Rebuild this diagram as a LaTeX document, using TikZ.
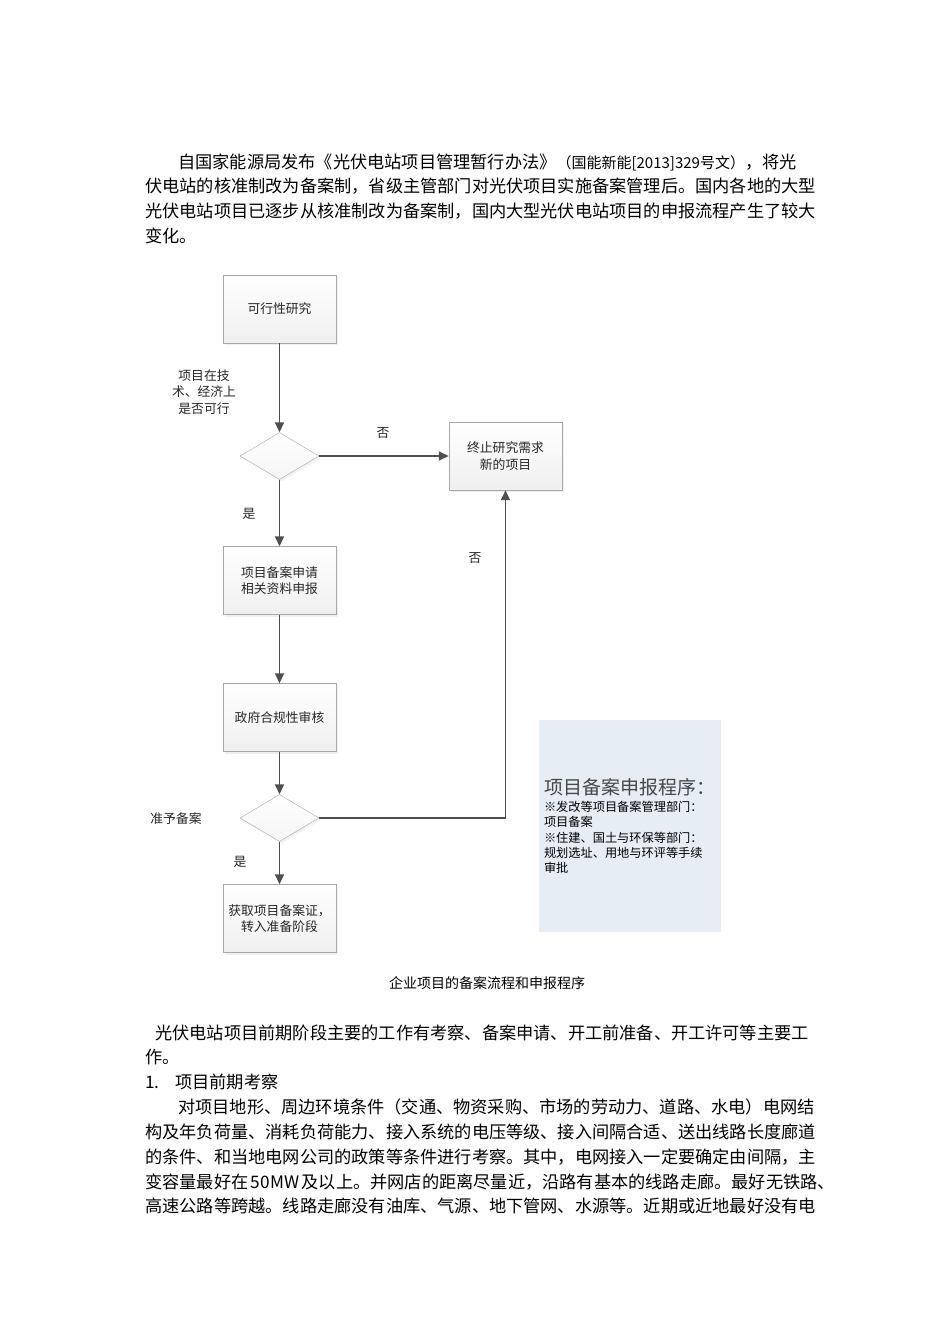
\documentclass[tikz,border=0pt]{standalone}
\usepackage{fontspec}
\setmainfont{Noto Sans CJK SC}
\usetikzlibrary{
  arrows.meta,
  positioning,
  shapes.geometric,
  shadows
}
\XeTeXlinebreaklocale "zh"
\XeTeXlinebreakskip = 0pt plus 3pt minus 1pt

\definecolor{arrowgray}{HTML}{4F4F4F}
\definecolor{boxline}{HTML}{A8A8A8}
\definecolor{notefill}{HTML}{E6EDF5}
\definecolor{inkgray}{HTML}{262626}

\newcommand{\bodyfont}{\fontsize{17.2}{24.6}\selectfont}
\newcommand{\smallbody}{\fontsize{15}{18}\selectfont}
\newcommand{\chartfont}{\fontsize{12.8}{16.5}\selectfont}
\newcommand{\notefont}{\fontsize{12.2}{15.3}\selectfont}
\newcommand{\notetitlefont}{\fontsize{19}{21}\selectfont}
\newcommand{\captionfont}{\fontsize{14}{17}\selectfont}
\newcommand{\fullline}[2]{\makebox[#1][s]{#2}}

\begin{document}
\begin{tikzpicture}[
  x=1pt, y=-1pt,
  stepbox/.style={
    rectangle,
    draw=boxline,
    top color=white,
    bottom color=gray!12,
    minimum width=113pt,
    minimum height=68pt,
    font=\chartfont,
    text=inkgray,
    align=center,
    inner sep=2pt,
    drop shadow={shadow xshift=2pt, shadow yshift=-2pt, opacity=0.12},
  },
  decision/.style={
    diamond,
    draw=boxline,
    top color=white,
    bottom color=gray!8,
    minimum width=79pt,
    minimum height=47pt,
    inner sep=0pt,
    drop shadow={shadow xshift=2pt, shadow yshift=-2pt, opacity=0.10},
  },
  arrow/.style={-{Triangle[length=10pt, width=9pt]}, line width=1.6pt, arrowgray},
  flowlabel/.style={
    font=\chartfont,
    text=inkgray,
    inner sep=0pt,
  },
  note/.style={
    rectangle,
    fill=notefill,
    minimum width=182pt,
    minimum height=212pt,
    text width=172pt,
    align=left,
    inner sep=5pt,
    font=\notefont,
  },
  bodyline/.style={
    anchor=base west,
    inner sep=0pt,
    font=\bodyfont,
  },
]
\useasboundingbox (0,0) rectangle (950,1344);

% ── Opening paragraph ──
\node[bodyline] (introA) at (178, 168.5) {\fullline{630pt}{自国家能源局发布《光伏电站项目管理暂行办法》{\smallbody（国能新能[2013]329号文）}，将光}};
\node[bodyline] (introB) at (145, 192.5) {\fullline{663pt}{伏电站的核准制改为备案制，省级主管部门对光伏项目实施备案管理后。国内各地的大型}};
\node[bodyline] (introC) at (145, 217.5) {\fullline{663pt}{光伏电站项目已逐步从核准制改为备案制，国内大型光伏电站项目的申报流程产生了较大}};
\node[bodyline] (introD) at (145, 242.5) {变化。};

% ── Main column ──
\node[stepbox] (study) at (279.5, 309) {可行性研究};
\node[decision] (feasible) at (279.5, 456) {};
\node[stepbox] (apply) at (279.5, 580.5) {项目备案申请\\相关资料申报};
\node[stepbox] (review) at (279.5, 717.5) {政府合规性审核};
\node[decision] (approve) at (279.5, 818) {};
\node[stepbox] (obtain) at (279.5, 918.5) {获取项目备案证，\\转入准备阶段};

% ── Side branch ──
\node[stepbox] (stop) at (505.5, 456) {终止研究需求\\新的项目};

% ── Labels ──
\node[flowlabel, align=center] (askfeasible) at (204, 392) {项目在技\\术、经济上\\是否可行};
\node[flowlabel] (noA) at (383, 433) {否};
\node[flowlabel] (yesA) at (249, 514) {是};
\node[flowlabel] (noB) at (475, 558) {否};
\node[flowlabel] (askapprove) at (176, 819) {准予备案};
\node[flowlabel] (yesB) at (240, 862) {是};

% ── Arrows ──
\draw[arrow] (study) -- (feasible);
\draw[arrow] (feasible) -- (stop);
\draw[arrow] (feasible) -- (apply);
\draw[arrow] (apply) -- (review);
\draw[arrow] (review) -- (approve);
\draw[arrow] (approve) -- (obtain);
\draw[arrow] (approve.east) -| (stop.south);

% ── Procedure note ──
\node[note] (procedure) at (630, 826) {%
  {\notetitlefont\color{inkgray!85}项目备案申报程序：}\\[2pt]
  ※发改等项目备案管理部门：\\
  项目备案\\
  ※住建、国土与环保等部门：\\
  规划选址、用地与环评等手续\\
  审批};

% ── Caption ──
\node[font=\captionfont, inner sep=0pt] (caption) at (487, 983) {企业项目的备案流程和申报程序};

% ── Following text ──
\node[bodyline] (workA) at (155, 1039.5) {\fullline{653pt}{光伏电站项目前期阶段主要的工作有考察、备案申请、开工前准备、开工许可等主要工}};
\node[bodyline] (workB) at (145, 1063.5) {作。};
\node[bodyline] (itemnum) at (145, 1088.5) {1.};
\node[bodyline] (itemtitle) at (175, 1088.5) {项目前期考察};
\node[bodyline] (surveyA) at (178, 1113.5) {\fullline{630pt}{对项目地形、周边环境条件（交通、物资采购、市场的劳动力、道路、水电）电网结}};
\node[bodyline] (surveyB) at (145, 1138.5) {\fullline{663pt}{构及年负荷量、消耗负荷能力、接入系统的电压等级、接入间隔合适、送出线路长度廊道}};
\node[bodyline] (surveyC) at (145, 1163.5) {\fullline{663pt}{的条件、和当地电网公司的政策等条件进行考察。其中，电网接入一定要确定由间隔，主}};
\node[bodyline] (surveyD) at (145, 1188.5) {\fullline{677pt}{变容量最好在 50MW 及以上。并网店的距离尽量近，沿路有基本的线路走廊。最好无铁路、}};
\node[bodyline] (surveyE) at (145, 1212.5) {\fullline{663pt}{高速公路等跨越。线路走廊没有油库、气源、地下管网、水源等。近期或近地最好没有电}};

\end{tikzpicture}
\end{document}
